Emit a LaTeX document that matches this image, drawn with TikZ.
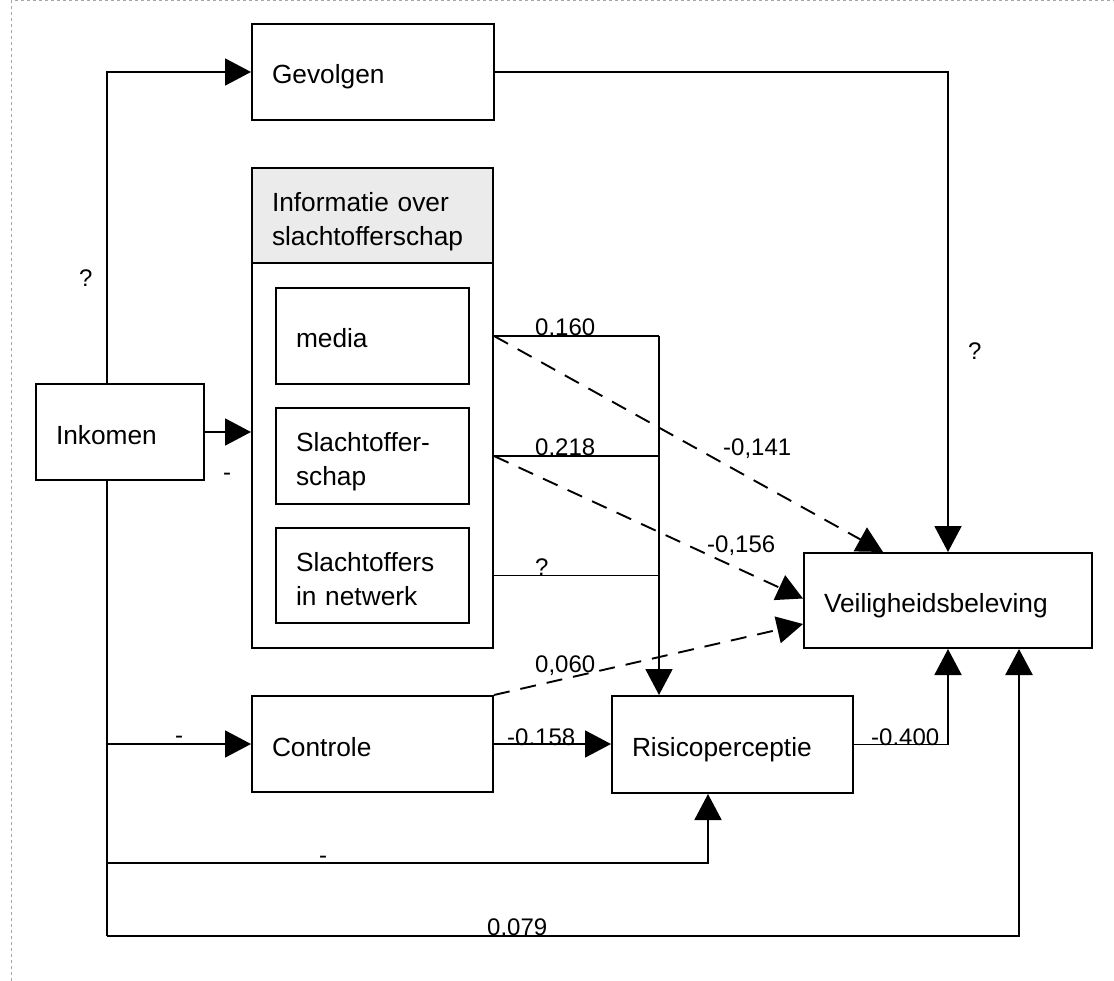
\documentclass[tikz,border=0pt]{standalone}
\usepackage{fontspec}
\setmainfont{Liberation Sans}
\usetikzlibrary{arrows.meta,calc}
\begin{document}
\begin{tikzpicture}[x=1pt,y=-1pt,
  box/.style={draw,line width=2pt,rectangle,inner xsep=20pt,inner ysep=0pt,
    align=left,anchor=north west,font=\fontsize{26.3}{34}\selectfont,
    text height=24pt,text depth=0pt},
  twoline/.style={text depth=32pt},
  conn/.style={line width=1.9pt},
  arr/.style={conn,-{Triangle[length=26pt,width=27pt]}},
  dsh/.style={arr,dash pattern=on 16pt off 11pt},
  lab/.style={font=\fontsize{24}{28}\selectfont,inner sep=0pt,anchor=base west},
  frame/.style={draw=gray!70,line width=1pt,dash pattern=on 3pt off 3pt}
]
\useasboundingbox (0,0) rectangle (1114,981);
\draw[frame] (11,981) -- (11,1) -- (1114,1);

% boxes
\node[box,minimum width=242pt,minimum height=96pt,text width=202pt] (Gev) at (251,23) {Gevolgen};
\node[box,minimum width=241pt,minimum height=480pt,text width=201pt] (info) at (251,167) {};
\node[box,fill=black!8,minimum width=241pt,minimum height=95pt,text width=201pt,twoline] (infohead) at (251,167) {Informatie over\\slachtofferschap};
\node[box,minimum width=193pt,minimum height=96pt,text width=153pt] (media) at (275,287) {media};
\node[box,minimum width=193pt,minimum height=96pt,text width=153pt,twoline] (Sch) at (275,407) {Slachtoffer-\\schap};
\node[box,minimum width=193pt,minimum height=95pt,text width=153pt,twoline] (Netw) at (275,527) {Slachtoffers\\in netwerk};
\node[box,minimum width=168pt,minimum height=96pt,text width=128pt] (Ink) at (35,383) {Inkomen};
\node[box,minimum width=241pt,minimum height=96pt,text width=201pt] (Ctrl) at (251,695) {Controle};
\node[box,minimum width=241pt,minimum height=97pt,text width=201pt] (Risk) at (611,695) {Risicoperceptie};
\node[box,minimum width=288pt,minimum height=95pt,text width=248pt] (Veil) at (803,552) {Veiligheidsbeleving};

% helper coordinates
\coordinate (bl) at (107,936);
\coordinate (vr) at (1019,936);
\coordinate (vx) at (659,335);
\coordinate (rb) at (708,863);

% Inkomen connections
\draw[arr] (Ink.north -| bl) |- (Gev.west);
\draw[arr] (Ink.east) -- (Ink.east -| info.west);
\draw[conn] (Ink.south -| bl) -- (bl);
\draw[arr] (Ctrl.west -| bl) -- (Ctrl.west);
\draw[arr] (bl |- rb) -- (rb) -- (rb |- Risk.south);
\draw[arr,line width=2.6pt] (bl) -- (vr) -- (vr |- Veil.south);

% Gevolgen -> Veiligheidsbeleving
\draw[arr] (Gev.east) -| (Veil.north);

% information lines
\draw[conn] (media.east -| info.east) -- (media.east -| vx);
\draw[conn] (Sch.east -| info.east) -- (Sch.east -| vx);
\draw[conn] (Netw.east -| info.east) -- (Netw.east -| vx);
\draw[arr] (media.east -| vx) -- (vx |- Risk.north);

% dashed paths
\draw[dsh] (media.east -| info.east) -- ($(Veil.north west)+(80,0)$);
\draw[dsh] (Sch.east -| info.east) -- ($(Veil.west)+(0,-2)$);
\draw[dsh] (Ctrl.north east) -- ($(Veil.west)+(0,23.5)$);

% Controle -> Risico, Risico -> Veiligheid
\draw[arr] (Ctrl.east) -- (Ctrl.east -| Risk.west);
\draw[arr] (Risk.east) -| (Veil.south);

% labels
\node[lab] (l1) at (79,287) {?};
\node[lab] (l2) at (968,360) {?};
\node[lab] (l3) at (223,480) {-};
\node[lab] (l4) at (175,743) {-};
\node[lab] (l5) at (319,863) {-};
\node[lab] (l6) at (535,336) {0.160};
\node[lab] (l7) at (535,456) {0.218};
\node[lab] (l8) at (535,575) {?};
\node[lab] (l9) at (723,455) {-0,141};
\node[lab] (l10) at (707,552) {-0,156};
\node[lab] (l11) at (535,672) {0,060};
\node[lab] (l12) at (507,745) {-0.158};
\node[lab] (l13) at (871,745) {-0.400};
\node[lab] (l14) at (487,935) {0.079};
\end{tikzpicture}
\end{document}
